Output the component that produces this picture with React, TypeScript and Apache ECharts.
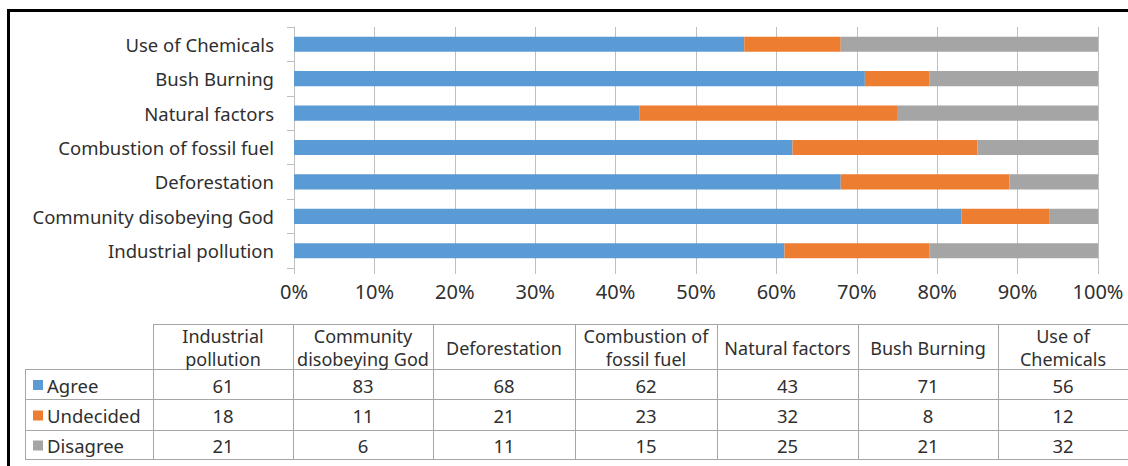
import React, { useEffect, useRef } from "react";
import * as echarts from "echarts";

const categories = [
  "Industrial pollution",
  "Community disobeying God",
  "Deforestation",
  "Combustion of fossil fuel",
  "Natural factors",
  "Bush Burning",
  "Use of Chemicals",
];
const headerLabels = [
  "Industrial\npollution",
  "Community\ndisobeying God",
  "Deforestation",
  "Combustion of\nfossil fuel",
  "Natural factors",
  "Bush Burning",
  "Use of\nChemicals",
];
const seriesNames = ["Agree", "Undecided", "Disagree"];
const agree = [61, 83, 68, 62, 43, 71, 56];
const undecided = [18, 11, 21, 23, 32, 8, 12];
const disagree = [21, 6, 11, 15, 25, 21, 32];
const seriesValues = [agree, undecided, disagree];
const colors = ["#5b9bd5", "#ed7d31", "#a5a5a5"];

const FONT = "'Noto Sans'";
const TEXT = "#2f2f2f";
const LINE = "#a6a6a6";

export default function App() {
  const ref = useRef<HTMLDivElement>(null);
  useEffect(() => {
    if (!ref.current) return;
    const chart = echarts.init(ref.current, undefined, { renderer: "svg" });

    const colX = [153, 293, 433, 575, 717, 858, 998, 1128];
    const rowY = [324, 369, 399, 430, 459];
    const legendLeft = 25;
    const graphics: any[] = [];
    const line = (x1: number, y1: number, x2: number, y2: number) => ({
      type: "line",
      shape: { x1, y1, x2, y2 },
      style: { stroke: LINE, lineWidth: 1 },
      silent: true,
    });
    graphics.push(line(colX[0], rowY[0] + 0.5, 1128, rowY[0] + 0.5));
    for (let r = 1; r < rowY.length; r++) {
      graphics.push(line(legendLeft, rowY[r] + 0.5, 1128, rowY[r] + 0.5));
    }
    graphics.push(line(legendLeft + 0.5, rowY[1], legendLeft + 0.5, rowY[4]));
    for (let c = 0; c < colX.length - 1; c++) {
      graphics.push(line(colX[c] + 0.5, rowY[0], colX[c] + 0.5, rowY[4]));
    }
    const TF = `18.5px ${FONT}`;
    headerLabels.forEach((h, i) => {
      graphics.push({
        type: "text",
        x: (colX[i] + colX[i + 1]) / 2,
        y: (rowY[0] + rowY[1]) / 2 + 1,
        style: {
          text: h,
          font: `18px ${FONT}`,
          fill: TEXT,
          align: "center",
          verticalAlign: "middle",
          lineHeight: 23,
        },
      });
    });
    seriesNames.forEach((name, s) => {
      const cy = (rowY[s + 1] + rowY[s + 2]) / 2 + 1;
      graphics.push({
        type: "rect",
        shape: { x: 33, y: cy - 5, width: 10, height: 10 },
        style: { fill: colors[s] },
      });
      graphics.push({
        type: "text",
        x: 47,
        y: cy,
        style: {
          text: name,
          font: TF,
          fill: TEXT,
          align: "left",
          verticalAlign: "middle",
        },
      });
      seriesValues[s].forEach((v, i) => {
        graphics.push({
          type: "text",
          x: (colX[i] + colX[i + 1]) / 2,
          y: cy,
          style: {
            text: String(v),
            font: TF,
            fill: TEXT,
            align: "center",
            verticalAlign: "middle",
          },
        });
      });
    });
    graphics.push({ type: "rect", shape: { x: 7, y: 9, width: 1121, height: 3 }, style: { fill: "#000" } });
    graphics.push({ type: "rect", shape: { x: 7, y: 9, width: 3, height: 457 }, style: { fill: "#000" } });

    chart.setOption({
      animation: false,
      backgroundColor: "#ffffff",
      textStyle: { fontFamily: FONT },
      grid: { left: 294, right: 30, top: 27, bottom: 198, containLabel: false },
      xAxis: {
        type: "value",
        min: 0,
        max: 100,
        interval: 10,
        axisLine: { show: false },
        axisTick: { show: true, length: 6, lineStyle: { color: "#bfbfbf" } },
        splitLine: { show: true, lineStyle: { color: "#bfbfbf", width: 1 } },
        axisLabel: {
          formatter: "{value}%",
          fontSize: 20,
          color: TEXT,
          fontFamily: FONT,
          margin: 13,
        },
      },
      yAxis: {
        type: "category",
        data: categories,
        axisLine: { show: true, lineStyle: { color: "#bfbfbf" } },
        axisTick: { show: true, length: 7, lineStyle: { color: "#bfbfbf" } },
        axisLabel: { fontSize: 18.5, color: TEXT, fontFamily: FONT, margin: 20 },
      },
      series: seriesNames.map((name, s) => ({
        name,
        type: "bar",
        stack: "total",
        data: seriesValues[s],
        barWidth: "44%",
        itemStyle: { color: colors[s] },
      })),
      graphic: graphics,
    });
    return () => chart.dispose();
  }, []);
  return (
    <div
      ref={ref}
      style={{ position: "fixed", left: 0, top: 0, width: 1128, height: 466, background: "#fff" }}
    />
  );
}
